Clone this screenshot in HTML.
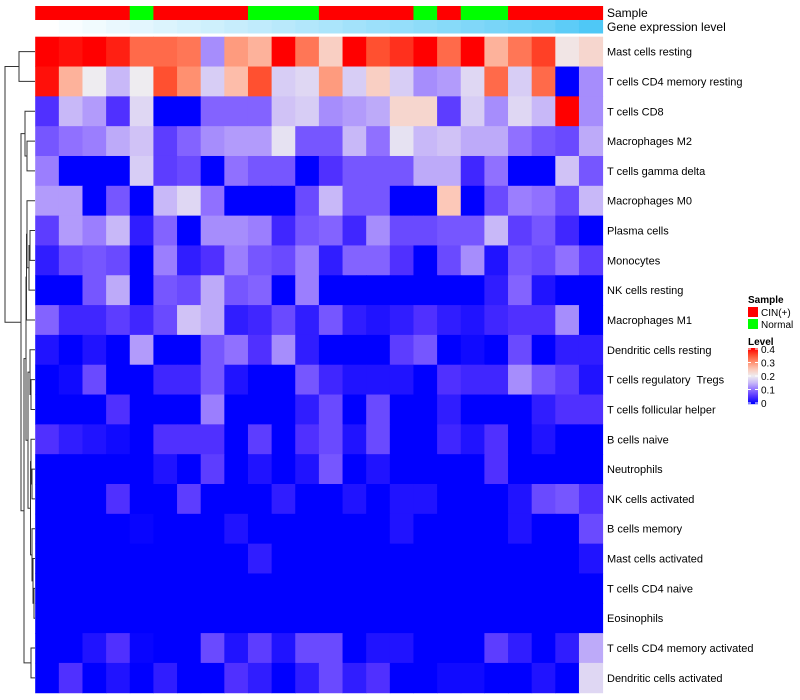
<!DOCTYPE html>
<html><head><meta charset="utf-8"><style>
body{margin:0;background:#fff;}
svg{display:block;font-family:"Liberation Sans",sans-serif;}
text{white-space:pre;}
</style></head><body>
<svg id="chart" width="800" height="700"></svg>
<script>
const rowNames = ["Mast cells resting","T cells CD4 memory resting","T cells CD8","Macrophages M2","T cells gamma delta","Macrophages M0","Plasma cells","Monocytes","NK cells resting","Macrophages M1","Dendritic cells resting","T cells regulatory  Tregs","T cells follicular helper","B cells naive","Neutrophils","NK cells activated","B cells memory","Mast cells activated","T cells CD4 naive","Eosinophils","T cells CD4 memory activated","Dendritic cells activated"];
const sampleGroups = ["CIN","CIN","CIN","CIN","Normal","CIN","CIN","CIN","CIN","Normal","Normal","Normal","CIN","CIN","CIN","CIN","Normal","CIN","Normal","Normal","CIN","CIN","CIN","CIN"];
const geneLevel = [0,0.04,0.08,0.12,0.16,0.2,0.24,0.28,0.32,0.36,0.4,0.44,0.48,0.52,0.56,0.6,0.64,0.68,0.72,0.76,0.8,0.84,0.92,1];
const legendTicks = [0,0.1,0.2,0.3,0.4];
const r01 = [0.4,0.39,0.4,0.38,0.33,0.33,0.32,0.12,0.29,0.27,0.4,0.32,0.24,0.4,0.35,0.37,0.4,0.33,0.4,0.27,0.32,0.36,0.21,0.23];
const r02 = [0.39,0.27,0.2,0.15,0.2,0.35,0.3,0.17,0.26,0.35,0.17,0.18,0.29,0.17,0.24,0.17,0.12,0.13,0.18,0.33,0.17,0.33,0,0.12];
const r03 = [0.05,0.15,0.13,0.05,0.18,0,0,0.09,0.09,0.09,0.16,0.17,0.12,0.13,0.14,0.23,0.23,0.06,0.17,0.12,0.18,0.15,0.4,0.12];
const r04 = [0.08,0.1,0.11,0.14,0.16,0.06,0.09,0.12,0.13,0.13,0.19,0.08,0.08,0.15,0.1,0.19,0.15,0.16,0.14,0.14,0.1,0.08,0.07,0.14];
const r05 = [0.11,0,0,0,0.17,0.06,0.07,0,0.1,0.08,0.08,0,0.05,0.08,0.08,0.08,0.14,0.14,0.04,0.1,0,0,0.16,0.08];
const r06 = [0.13,0.13,0,0.08,0,0.15,0.18,0.1,0,0,0,0.07,0.15,0.08,0.08,0,0,0.25,0,0.07,0.11,0.1,0.07,0.15];
const r07 = [0.06,0.13,0.11,0.15,0.03,0.09,0,0.12,0.12,0.11,0.04,0.08,0.09,0.04,0.12,0.07,0.07,0.08,0.08,0.15,0.06,0.08,0.04,0];
const r08 = [0.03,0.07,0.08,0.07,0,0.11,0.03,0.05,0.11,0.08,0.07,0.11,0.03,0.09,0.09,0.05,0,0.07,0.12,0.02,0.08,0.07,0.1,0.06];
const r09 = [0,0,0.08,0.14,0,0.08,0.07,0.14,0.08,0.09,0,0.11,0,0,0,0,0,0,0,0.03,0.09,0.02,0,0];
const r10 = [0.09,0.04,0.04,0.06,0.04,0.07,0.16,0.14,0.03,0.04,0.07,0.03,0.08,0.03,0.02,0.03,0.05,0.03,0.02,0.04,0.05,0.05,0.12,0];
const r11 = [0.02,0,0.02,0,0.13,0,0,0.08,0.1,0.05,0.12,0.03,0,0,0,0.06,0.08,0,0.01,0,0.07,0,0.03,0.03];
const r12 = [0,0.01,0.07,0,0,0.04,0.04,0.08,0.02,0,0,0.08,0.04,0.02,0.02,0.02,0,0.05,0.04,0.04,0.12,0.08,0.06,0.02];
const r13 = [0,0,0,0.05,0,0,0,0.11,0,0,0,0.03,0.07,0,0.07,0,0,0.03,0,0,0,0.03,0.05,0.05];
const r14 = [0.05,0.03,0.02,0.01,0,0.05,0.05,0.05,0,0.06,0,0.05,0.07,0.02,0.07,0,0,0.04,0.02,0.05,0,0.02,0,0];
const r15 = [0,0,0,0,0,0.02,0,0.06,0,0.02,0,0.02,0.08,0,0.02,0,0,0,0,0.05,0,0,0,0];
const r16 = [0,0,0,0.05,0,0,0.06,0,0,0,0.03,0,0,0.02,0,0.02,0.02,0,0,0,0.02,0.07,0.08,0.05];
const r17 = [0,0,0,0,0.005,0,0,0,0.02,0,0,0,0,0,0,0.02,0,0,0,0,0.02,0,0,0.07];
const r18 = [0,0,0,0,0,0,0,0,0,0.03,0,0,0,0,0,0,0,0,0,0,0,0,0,0.02];
const r19 = [0,0,0,0,0,0,0,0,0,0,0,0,0,0,0,0,0,0,0,0,0,0,0,0];
const r20 = [0,0,0,0,0,0,0,0,0,0,0,0,0,0,0,0,0,0,0,0,0,0,0,0];
const r21 = [0,0,0.02,0.05,0.005,0,0,0.07,0.02,0.06,0.02,0.07,0.07,0,0.02,0.02,0,0,0,0.06,0.03,0,0.03,0.14];
const r22 = [0,0.05,0,0.02,0,0.03,0,0,0.05,0.03,0,0.03,0.07,0.03,0.05,0,0,0.01,0.01,0,0,0.02,0,0.18];
const values = [r01,r02,r03,r04,r05,r06,r07,r08,r09,r10,r11,r12,r13,r14,r15,r16,r17,r18,r19,r20,r21,r22];

const NS="http://www.w3.org/2000/svg";
const svg=document.getElementById('chart');
function mk(tag,attrs,parent){const e=document.createElementNS(NS,tag);for(const k in attrs)e.setAttribute(k,attrs[k]);(parent||svg).appendChild(e);return e;}
const X0=35.2,X1=602.6,Y0=36.7,RH=29.82;
const nCol=values[0].length;
const CW=(X1-X0)/nCol;
const xPos=j=>X0+j*CW;
const yPos=i=>Y0+i*RH;
const stops=[[0,[0,0,255]],[0.05,[80,48,255]],[0.1,[144,112,255]],[0.15,[200,184,248]],[0.2,[238,236,240]],[0.25,[252,200,184]],[0.3,[255,144,112]],[0.35,[255,80,48]],[0.4,[255,0,0]]];
function col(v){v=Math.max(0,Math.min(0.4,v));for(let k=1;k<stops.length;k++){if(v<=stops[k][0]){const a=stops[k-1],b=stops[k];const t=(v-a[0])/(b[0]-a[0]);const c=a[1].map((x,i)=>Math.round(x+(b[1][i]-x)*t));return `rgb(${c})`;}}return 'rgb(255,0,0)';}

const gS=mk('g',{});


sampleGroups.forEach((s,j)=>{const r=mk('rect',{x:xPos(j),y:6,width:CW+0.5,height:14,fill:s==="CIN"?"#ff0000":"#00ff00"},gS);

});
const gG=mk('g',{});


geneLevel.forEach((g,j)=>{const c=[255+(79-255)*g,255+(200-255)*g,255+(246-255)*g].map(Math.round);
const r=mk('rect',{x:xPos(j),y:20,width:CW+0.5,height:13.5,fill:`rgb(${c})`},gG);

});
let t=mk('text',{x:607,y:17,'font-size':12,fill:'#000'});t.textContent='Sample';


t=mk('text',{x:607,y:31,'font-size':12,fill:'#000'});t.textContent='Gene expression level';



const gH=mk('g',{});


values.forEach((row,i)=>{row.forEach((v,j)=>{const r=mk('rect',{x:xPos(j),y:yPos(i),width:CW+0.5,height:RH+0.5,fill:col(v)},gH);

});
const tx=mk('text',{x:607,y:yPos(i)+RH/2+4,'font-size':11,fill:'#000'});tx.textContent=rowNames[i];

});

const tree={x:5,c:[{x:19,c:[0,1]},{x:21,c:[{x:25,c:[2,{x:27,c:[3,4]}]},{x:24,c:[{x:26,c:[{x:26.5,c:[{x:27,c:[5,{x:29,c:[{x:30,c:[6,7]},8]}]},9]},{x:28,c:[{x:30,c:[10,{x:31,c:[11,12]}]},{x:30.5,c:[{x:31,c:[13,{x:32,c:[14,15]}]},{x:32,c:[16,{x:33,c:[17,{x:34,c:[18,19]}]}]}]}]}]},{x:31,c:[20,21]}]}]}]};
const gD=mk('g',{stroke:'#333','stroke-width':1,fill:'none'});


function draw(n){if(typeof n==='number')return {x:35,y:yPos(n)+RH/2};
const a=draw(n.c[0]),b=draw(n.c[1]);
mk('path',{d:`M${a.x},${a.y}H${n.x}V${b.y}H${b.x}`},gD);return {x:n.x,y:(a.y+b.y)/2};}
draw(tree);

const gL=mk('g',{});


t=mk('text',{x:748,y:303,'font-size':10,'font-weight':'bold'},gL);t.textContent='Sample';
[["CIN(+)","#ff0000",307],["Normal","#00ff00",319]].forEach(([lab,c,y])=>{const r=mk('rect',{x:748,y:y,width:10,height:10,fill:c},gL);


const tt=mk('text',{x:761,y:y+9,'font-size':10},gL);tt.textContent=lab;

});
t=mk('text',{x:748,y:345,'font-size':10,'font-weight':'bold'},gL);t.textContent='Level';
for(let k=0;k<56;k++){const v=0.4*(1-k/55);mk('rect',{x:748,y:348+k,width:10,height:1.2,fill:col(v)},gL);}
const ly=v=>403-(v/0.4)*54;
legendTicks.forEach(v=>{mk('line',{x1:748,x2:751,y1:ly(v),y2:ly(v),stroke:'#fff'},gL);mk('line',{x1:755,x2:758,y1:ly(v),y2:ly(v),stroke:'#fff'},gL);
const tt=mk('text',{x:761,y:ly(v)+4,'font-size':10},gL);tt.textContent=String(v);

});
</script>
</body></html>
